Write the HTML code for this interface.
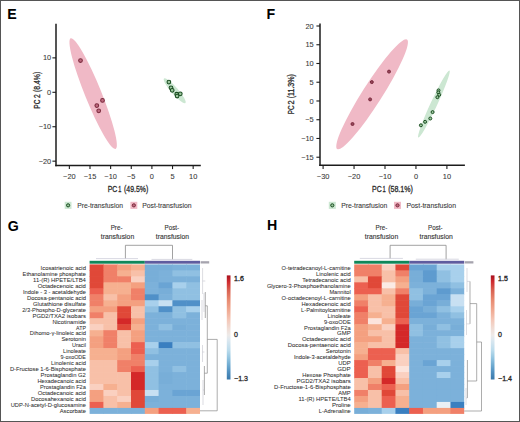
<!DOCTYPE html><html><head><meta charset="utf-8"><style>html,body{margin:0;padding:0;background:#fff;}svg{display:block;}</style></head><body><svg width="520" height="422" viewBox="0 0 520 422" font-family='"Liberation Sans", sans-serif'>
<rect x="0" y="0" width="520" height="422" fill="#ffffff"/>
<text x="7.30" y="18.80" font-size="14.2" font-weight="bold" fill="#000">E</text>
<text x="266.40" y="18.70" font-size="14.2" font-weight="bold" fill="#000">F</text>
<text x="7.70" y="230.70" font-size="14.2" font-weight="bold" fill="#000">G</text>
<text x="267.00" y="230.10" font-size="14.2" font-weight="bold" fill="#000">H</text>
<ellipse cx="93.15" cy="93.65" rx="59.73" ry="8.20" transform="rotate(67.92 93.15 93.65)" fill="#f0b9c6" fill-opacity="1.0"/>
<ellipse cx="174.70" cy="90.80" rx="16.23" ry="3.40" transform="rotate(48.75 174.70 90.80)" fill="#cce7d2" fill-opacity="1.0"/>
<line x1="56.00" y1="23.80" x2="56.00" y2="166.25" stroke="#1c1c1c" stroke-width="1.5"/>
<line x1="55.25" y1="165.50" x2="200.80" y2="165.50" stroke="#1c1c1c" stroke-width="1.5"/>
<line x1="69.36" y1="165.50" x2="69.36" y2="169.10" stroke="#1c1c1c" stroke-width="1.1"/>
<text x="69.36" y="179.00" font-size="7.4" text-anchor="middle" fill="#3a3a3a" stroke="#3a3a3a" stroke-width="0.08">−20</text>
<line x1="90.00" y1="165.50" x2="90.00" y2="169.10" stroke="#1c1c1c" stroke-width="1.1"/>
<text x="90.00" y="179.00" font-size="7.4" text-anchor="middle" fill="#3a3a3a" stroke="#3a3a3a" stroke-width="0.08">−15</text>
<line x1="110.63" y1="165.50" x2="110.63" y2="169.10" stroke="#1c1c1c" stroke-width="1.1"/>
<text x="110.63" y="179.00" font-size="7.4" text-anchor="middle" fill="#3a3a3a" stroke="#3a3a3a" stroke-width="0.08">−10</text>
<line x1="131.27" y1="165.50" x2="131.27" y2="169.10" stroke="#1c1c1c" stroke-width="1.1"/>
<text x="131.27" y="179.00" font-size="7.4" text-anchor="middle" fill="#3a3a3a" stroke="#3a3a3a" stroke-width="0.08">−5</text>
<line x1="151.90" y1="165.50" x2="151.90" y2="169.10" stroke="#1c1c1c" stroke-width="1.1"/>
<text x="151.90" y="179.00" font-size="7.4" text-anchor="middle" fill="#3a3a3a" stroke="#3a3a3a" stroke-width="0.08">0</text>
<line x1="172.53" y1="165.50" x2="172.53" y2="169.10" stroke="#1c1c1c" stroke-width="1.1"/>
<text x="172.53" y="179.00" font-size="7.4" text-anchor="middle" fill="#3a3a3a" stroke="#3a3a3a" stroke-width="0.08">5</text>
<line x1="193.17" y1="165.50" x2="193.17" y2="169.10" stroke="#1c1c1c" stroke-width="1.1"/>
<text x="193.17" y="179.00" font-size="7.4" text-anchor="middle" fill="#3a3a3a" stroke="#3a3a3a" stroke-width="0.08">10</text>
<line x1="52.40" y1="57.87" x2="56.00" y2="57.87" stroke="#1c1c1c" stroke-width="1.1"/>
<text x="51.20" y="60.47" font-size="7.4" text-anchor="end" fill="#3a3a3a" stroke="#3a3a3a" stroke-width="0.08">10</text>
<line x1="52.40" y1="92.30" x2="56.00" y2="92.30" stroke="#1c1c1c" stroke-width="1.1"/>
<text x="51.20" y="94.90" font-size="7.4" text-anchor="end" fill="#3a3a3a" stroke="#3a3a3a" stroke-width="0.08">0</text>
<line x1="52.40" y1="126.73" x2="56.00" y2="126.73" stroke="#1c1c1c" stroke-width="1.1"/>
<text x="51.20" y="129.33" font-size="7.4" text-anchor="end" fill="#3a3a3a" stroke="#3a3a3a" stroke-width="0.08">−10</text>
<line x1="52.40" y1="161.16" x2="56.00" y2="161.16" stroke="#1c1c1c" stroke-width="1.1"/>
<text x="51.20" y="163.76" font-size="7.4" text-anchor="end" fill="#3a3a3a" stroke="#3a3a3a" stroke-width="0.08">−20</text>
<text x="107.73" y="191.50" font-size="8.6" fill="#2b2b2b" stroke="#2b2b2b" stroke-width="0.3" textLength="9.64" lengthAdjust="spacingAndGlyphs">PC</text>
<text x="118.18" y="191.50" font-size="8.6" fill="#2b2b2b" stroke="#2b2b2b" stroke-width="0.3" textLength="3.09" lengthAdjust="spacingAndGlyphs">1</text>
<text x="124.07" y="191.50" font-size="8.6" fill="#2b2b2b" stroke="#2b2b2b" stroke-width="0.3" textLength="24.17" lengthAdjust="spacingAndGlyphs">(49.5%)</text>
<g transform="translate(40.4 0) rotate(-90)">
<text x="-108.64" y="0.00" font-size="8.6" fill="#2b2b2b" stroke="#2b2b2b" stroke-width="0.3" textLength="9.10" lengthAdjust="spacingAndGlyphs">PC</text>
<text x="-98.04" y="0.00" font-size="8.6" fill="#2b2b2b" stroke="#2b2b2b" stroke-width="0.3" textLength="3.79" lengthAdjust="spacingAndGlyphs">2</text>
<text x="-91.93" y="0.00" font-size="8.6" fill="#2b2b2b" stroke="#2b2b2b" stroke-width="0.3" textLength="20.16" lengthAdjust="spacingAndGlyphs">(8.4%)</text>
</g>
<circle cx="80.5" cy="60.5" r="1.85" fill="#c06a80" stroke="#7a2a3c" stroke-width="1.05"/>
<circle cx="102.5" cy="100.4" r="1.85" fill="#c06a80" stroke="#7a2a3c" stroke-width="1.05"/>
<circle cx="96.8" cy="105.6" r="1.85" fill="#c06a80" stroke="#7a2a3c" stroke-width="1.05"/>
<circle cx="98.7" cy="110.8" r="1.85" fill="#c06a80" stroke="#7a2a3c" stroke-width="1.05"/>
<circle cx="168.9" cy="82.1" r="1.85" fill="#9cc69e" stroke="#194c20" stroke-width="1.05"/>
<circle cx="171.0" cy="87.8" r="1.85" fill="#9cc69e" stroke="#194c20" stroke-width="1.05"/>
<circle cx="172.2" cy="90.3" r="1.85" fill="#9cc69e" stroke="#194c20" stroke-width="1.05"/>
<circle cx="176.7" cy="94.2" r="1.85" fill="#9cc69e" stroke="#194c20" stroke-width="1.05"/>
<circle cx="180.3" cy="93.8" r="1.85" fill="#9cc69e" stroke="#194c20" stroke-width="1.05"/>
<circle cx="177.1" cy="96.0" r="1.85" fill="#9cc69e" stroke="#194c20" stroke-width="1.05"/>
<rect x="64.7" y="201.8" width="6.799999999999997" height="7.099999999999994" fill="#cce7d2"/>
<circle cx="68.1" cy="205.35000000000002" r="1.6" fill="#9cc69e" stroke="#194c20" stroke-width="1"/>
<text x="77.20" y="207.60" font-size="7.6" fill="#3a3a3a" stroke="#3a3a3a" stroke-width="0.1" textLength="45.80" lengthAdjust="spacingAndGlyphs">Pre-transfusion</text>
<rect x="130.4" y="201.8" width="6.900000000000006" height="7.099999999999994" fill="#f0b9c6"/>
<circle cx="133.85000000000002" cy="205.35000000000002" r="1.6" fill="#c06a80" stroke="#7a2a3c" stroke-width="1"/>
<text x="142.20" y="207.60" font-size="7.6" fill="#3a3a3a" stroke="#3a3a3a" stroke-width="0.1" textLength="49.30" lengthAdjust="spacingAndGlyphs">Post-transfusion</text>
<ellipse cx="372.10" cy="94.30" rx="64.97" ry="9.80" transform="rotate(122.49 372.10 94.30)" fill="#f0b9c6" fill-opacity="1.0"/>
<ellipse cx="433.90" cy="104.00" rx="36.95" ry="3.30" transform="rotate(114.97 433.90 104.00)" fill="#cce7d2" fill-opacity="1.0"/>
<line x1="320.00" y1="23.50" x2="320.00" y2="166.05" stroke="#1c1c1c" stroke-width="1.5"/>
<line x1="319.25" y1="165.30" x2="464.90" y2="165.30" stroke="#1c1c1c" stroke-width="1.5"/>
<line x1="323.10" y1="165.30" x2="323.10" y2="168.90" stroke="#1c1c1c" stroke-width="1.1"/>
<text x="323.10" y="178.60" font-size="7.4" text-anchor="middle" fill="#3a3a3a" stroke="#3a3a3a" stroke-width="0.08">−30</text>
<line x1="354.05" y1="165.30" x2="354.05" y2="168.90" stroke="#1c1c1c" stroke-width="1.1"/>
<text x="354.05" y="178.60" font-size="7.4" text-anchor="middle" fill="#3a3a3a" stroke="#3a3a3a" stroke-width="0.08">−20</text>
<line x1="385.00" y1="165.30" x2="385.00" y2="168.90" stroke="#1c1c1c" stroke-width="1.1"/>
<text x="385.00" y="178.60" font-size="7.4" text-anchor="middle" fill="#3a3a3a" stroke="#3a3a3a" stroke-width="0.08">−10</text>
<line x1="415.95" y1="165.30" x2="415.95" y2="168.90" stroke="#1c1c1c" stroke-width="1.1"/>
<text x="415.95" y="178.60" font-size="7.4" text-anchor="middle" fill="#3a3a3a" stroke="#3a3a3a" stroke-width="0.08">0</text>
<line x1="446.90" y1="165.30" x2="446.90" y2="168.90" stroke="#1c1c1c" stroke-width="1.1"/>
<text x="446.90" y="178.60" font-size="7.4" text-anchor="middle" fill="#3a3a3a" stroke="#3a3a3a" stroke-width="0.08">10</text>
<line x1="316.40" y1="26.00" x2="320.00" y2="26.00" stroke="#1c1c1c" stroke-width="1.1"/>
<text x="313.70" y="28.60" font-size="7.4" text-anchor="end" fill="#3a3a3a" stroke="#3a3a3a" stroke-width="0.08">20</text>
<line x1="316.40" y1="44.75" x2="320.00" y2="44.75" stroke="#1c1c1c" stroke-width="1.1"/>
<text x="313.70" y="47.35" font-size="7.4" text-anchor="end" fill="#3a3a3a" stroke="#3a3a3a" stroke-width="0.08">15</text>
<line x1="316.40" y1="63.49" x2="320.00" y2="63.49" stroke="#1c1c1c" stroke-width="1.1"/>
<text x="313.70" y="66.09" font-size="7.4" text-anchor="end" fill="#3a3a3a" stroke="#3a3a3a" stroke-width="0.08">10</text>
<line x1="316.40" y1="82.23" x2="320.00" y2="82.23" stroke="#1c1c1c" stroke-width="1.1"/>
<text x="313.70" y="84.83" font-size="7.4" text-anchor="end" fill="#3a3a3a" stroke="#3a3a3a" stroke-width="0.08">5</text>
<line x1="316.40" y1="100.98" x2="320.00" y2="100.98" stroke="#1c1c1c" stroke-width="1.1"/>
<text x="313.70" y="103.58" font-size="7.4" text-anchor="end" fill="#3a3a3a" stroke="#3a3a3a" stroke-width="0.08">0</text>
<line x1="316.40" y1="119.73" x2="320.00" y2="119.73" stroke="#1c1c1c" stroke-width="1.1"/>
<text x="313.70" y="122.33" font-size="7.4" text-anchor="end" fill="#3a3a3a" stroke="#3a3a3a" stroke-width="0.08">−5</text>
<line x1="316.40" y1="138.47" x2="320.00" y2="138.47" stroke="#1c1c1c" stroke-width="1.1"/>
<text x="313.70" y="141.07" font-size="7.4" text-anchor="end" fill="#3a3a3a" stroke="#3a3a3a" stroke-width="0.08">−10</text>
<line x1="316.40" y1="157.22" x2="320.00" y2="157.22" stroke="#1c1c1c" stroke-width="1.1"/>
<text x="313.70" y="159.81" font-size="7.4" text-anchor="end" fill="#3a3a3a" stroke="#3a3a3a" stroke-width="0.08">−15</text>
<text x="372.03" y="191.50" font-size="8.6" fill="#2b2b2b" stroke="#2b2b2b" stroke-width="0.3" textLength="9.64" lengthAdjust="spacingAndGlyphs">PC</text>
<text x="382.47" y="191.50" font-size="8.6" fill="#2b2b2b" stroke="#2b2b2b" stroke-width="0.3" textLength="3.21" lengthAdjust="spacingAndGlyphs">1</text>
<text x="388.16" y="191.50" font-size="8.6" fill="#2b2b2b" stroke="#2b2b2b" stroke-width="0.3" textLength="24.69" lengthAdjust="spacingAndGlyphs">(58.1%)</text>
<g transform="translate(294.2 0) rotate(-90)">
<text x="-114.32" y="0.00" font-size="8.6" fill="#2b2b2b" stroke="#2b2b2b" stroke-width="0.3" textLength="8.77" lengthAdjust="spacingAndGlyphs">PC</text>
<text x="-104.47" y="0.00" font-size="8.6" fill="#2b2b2b" stroke="#2b2b2b" stroke-width="0.3" textLength="4.16" lengthAdjust="spacingAndGlyphs">2</text>
<text x="-98.34" y="0.00" font-size="8.6" fill="#2b2b2b" stroke="#2b2b2b" stroke-width="0.3" textLength="24.28" lengthAdjust="spacingAndGlyphs">(11.3%)</text>
</g>
<circle cx="389.0" cy="71.6" r="1.5" fill="#94445a" stroke="#7a2a3c" stroke-width="1.0"/>
<circle cx="371.8" cy="82.1" r="1.5" fill="#94445a" stroke="#7a2a3c" stroke-width="1.0"/>
<circle cx="370.1" cy="99.4" r="1.5" fill="#94445a" stroke="#7a2a3c" stroke-width="1.0"/>
<circle cx="352.5" cy="124.0" r="1.5" fill="#94445a" stroke="#7a2a3c" stroke-width="1.0"/>
<circle cx="438.5" cy="90.4" r="1.5" fill="#9cc69e" stroke="#194c20" stroke-width="1.0"/>
<circle cx="438.3" cy="92.4" r="1.5" fill="#9cc69e" stroke="#194c20" stroke-width="1.0"/>
<circle cx="439.2" cy="94.8" r="1.5" fill="#9cc69e" stroke="#194c20" stroke-width="1.0"/>
<circle cx="437.4" cy="97.2" r="1.5" fill="#9cc69e" stroke="#194c20" stroke-width="1.0"/>
<circle cx="432.6" cy="112.1" r="1.5" fill="#9cc69e" stroke="#194c20" stroke-width="1.0"/>
<circle cx="430.3" cy="118.5" r="1.5" fill="#9cc69e" stroke="#194c20" stroke-width="1.0"/>
<circle cx="425.1" cy="121.8" r="1.5" fill="#9cc69e" stroke="#194c20" stroke-width="1.0"/>
<circle cx="420.9" cy="125.3" r="1.5" fill="#9cc69e" stroke="#194c20" stroke-width="1.0"/>
<rect x="328.8" y="201.8" width="7.0" height="7.099999999999994" fill="#cce7d2"/>
<circle cx="332.3" cy="205.35000000000002" r="1.6" fill="#9cc69e" stroke="#194c20" stroke-width="1"/>
<text x="341.20" y="207.60" font-size="7.6" fill="#3a3a3a" stroke="#3a3a3a" stroke-width="0.1" textLength="46.00" lengthAdjust="spacingAndGlyphs">Pre-transfusion</text>
<rect x="394.0" y="201.8" width="7.0" height="7.099999999999994" fill="#f0b9c6"/>
<circle cx="397.5" cy="205.35000000000002" r="1.6" fill="#c06a80" stroke="#7a2a3c" stroke-width="1"/>
<text x="406.40" y="207.60" font-size="7.6" fill="#3a3a3a" stroke="#3a3a3a" stroke-width="0.1" textLength="49.60" lengthAdjust="spacingAndGlyphs">Post-transfusion</text>
<text x="116.60" y="229.60" font-size="7.5" text-anchor="middle" fill="#333" stroke="#333" stroke-width="0.12" textLength="11.80" lengthAdjust="spacingAndGlyphs">Pre-</text>
<text x="117.50" y="238.50" font-size="7.5" text-anchor="middle" fill="#333" stroke="#333" stroke-width="0.12" textLength="33.40" lengthAdjust="spacingAndGlyphs">transfusion</text>
<text x="171.90" y="229.60" font-size="7.5" text-anchor="middle" fill="#333" stroke="#333" stroke-width="0.12" textLength="14.60" lengthAdjust="spacingAndGlyphs">Post-</text>
<text x="172.40" y="238.50" font-size="7.5" text-anchor="middle" fill="#333" stroke="#333" stroke-width="0.12" textLength="33.20" lengthAdjust="spacingAndGlyphs">transfusion</text>
<path d="M125.4 258.6 V245.3 H172.5 V259.4" fill="none" stroke="#8a8a8a" stroke-width="0.8"/>
<path d="M96.0 258.6 H138.0" fill="none" stroke="#c8c8d6" stroke-width="0.7"/>
<path d="M151.5 259.4 H192.3" fill="none" stroke="#c8c8d6" stroke-width="0.7"/>
<rect x="89.6" y="260.8" width="55.2" height="2.9" fill="#10875a"/>
<rect x="144.8" y="260.8" width="55.2" height="2.9" fill="#5f5c9f"/>
<rect x="200.6" y="261.2" width="8.6" height="2.3" fill="#a6a4ae"/>
<rect x="89.60" y="264.40" width="14.40" height="6.58" fill="#e04838"/>
<rect x="103.40" y="264.40" width="14.40" height="6.58" fill="#f08068"/>
<rect x="117.20" y="264.40" width="14.40" height="6.58" fill="#f4a080"/>
<rect x="131.00" y="264.40" width="14.40" height="6.58" fill="#f6b090"/>
<rect x="144.80" y="264.40" width="14.40" height="6.58" fill="#78aed8"/>
<rect x="158.60" y="264.40" width="14.40" height="6.58" fill="#78aed8"/>
<rect x="172.40" y="264.40" width="14.40" height="6.58" fill="#7cb1da"/>
<rect x="186.20" y="264.40" width="13.80" height="6.58" fill="#7cb1da"/>
<rect x="89.60" y="270.38" width="14.40" height="6.58" fill="#e04838"/>
<rect x="103.40" y="270.38" width="14.40" height="6.58" fill="#f08068"/>
<rect x="117.20" y="270.38" width="14.40" height="6.58" fill="#f6b090"/>
<rect x="131.00" y="270.38" width="14.40" height="6.58" fill="#f8c0a8"/>
<rect x="144.80" y="270.38" width="14.40" height="6.58" fill="#78aed8"/>
<rect x="158.60" y="270.38" width="14.40" height="6.58" fill="#7cb1da"/>
<rect x="172.40" y="270.38" width="14.40" height="6.58" fill="#90c0e2"/>
<rect x="186.20" y="270.38" width="13.80" height="6.58" fill="#90c0e2"/>
<rect x="89.60" y="276.36" width="14.40" height="6.58" fill="#e04838"/>
<rect x="103.40" y="276.36" width="14.40" height="6.58" fill="#f08068"/>
<rect x="117.20" y="276.36" width="14.40" height="6.58" fill="#f08068"/>
<rect x="131.00" y="276.36" width="14.40" height="6.58" fill="#fad0c0"/>
<rect x="144.80" y="276.36" width="14.40" height="6.58" fill="#78aed8"/>
<rect x="158.60" y="276.36" width="14.40" height="6.58" fill="#7cb1da"/>
<rect x="172.40" y="276.36" width="14.40" height="6.58" fill="#7cb1da"/>
<rect x="186.20" y="276.36" width="13.80" height="6.58" fill="#7cb1da"/>
<rect x="89.60" y="282.34" width="14.40" height="6.58" fill="#e04838"/>
<rect x="103.40" y="282.34" width="14.40" height="6.58" fill="#f6b090"/>
<rect x="117.20" y="282.34" width="14.40" height="6.58" fill="#f6b090"/>
<rect x="131.00" y="282.34" width="14.40" height="6.58" fill="#f4a080"/>
<rect x="144.80" y="282.34" width="14.40" height="6.58" fill="#7cb1da"/>
<rect x="158.60" y="282.34" width="14.40" height="6.58" fill="#6aa4d4"/>
<rect x="172.40" y="282.34" width="14.40" height="6.58" fill="#a8d0ec"/>
<rect x="186.20" y="282.34" width="13.80" height="6.58" fill="#90c0e2"/>
<rect x="89.60" y="288.32" width="14.40" height="6.58" fill="#ec6050"/>
<rect x="103.40" y="288.32" width="14.40" height="6.58" fill="#f6b090"/>
<rect x="117.20" y="288.32" width="14.40" height="6.58" fill="#f6b090"/>
<rect x="131.00" y="288.32" width="14.40" height="6.58" fill="#f08068"/>
<rect x="144.80" y="288.32" width="14.40" height="6.58" fill="#7cb1da"/>
<rect x="158.60" y="288.32" width="14.40" height="6.58" fill="#78aed8"/>
<rect x="172.40" y="288.32" width="14.40" height="6.58" fill="#90c0e2"/>
<rect x="186.20" y="288.32" width="13.80" height="6.58" fill="#90c0e2"/>
<rect x="89.60" y="294.30" width="14.40" height="6.58" fill="#f08068"/>
<rect x="103.40" y="294.30" width="14.40" height="6.58" fill="#f8c0a8"/>
<rect x="117.20" y="294.30" width="14.40" height="6.58" fill="#f4a080"/>
<rect x="131.00" y="294.30" width="14.40" height="6.58" fill="#f08068"/>
<rect x="144.80" y="294.30" width="14.40" height="6.58" fill="#5090c8"/>
<rect x="158.60" y="294.30" width="14.40" height="6.58" fill="#7cb1da"/>
<rect x="172.40" y="294.30" width="14.40" height="6.58" fill="#90c0e2"/>
<rect x="186.20" y="294.30" width="13.80" height="6.58" fill="#90c0e2"/>
<rect x="89.60" y="300.28" width="14.40" height="6.58" fill="#f08068"/>
<rect x="103.40" y="300.28" width="14.40" height="6.58" fill="#f6b090"/>
<rect x="117.20" y="300.28" width="14.40" height="6.58" fill="#f4a080"/>
<rect x="131.00" y="300.28" width="14.40" height="6.58" fill="#f4a080"/>
<rect x="144.80" y="300.28" width="14.40" height="6.58" fill="#a8d0ec"/>
<rect x="158.60" y="300.28" width="14.40" height="6.58" fill="#c8e0f2"/>
<rect x="172.40" y="300.28" width="14.40" height="6.58" fill="#5090c8"/>
<rect x="186.20" y="300.28" width="13.80" height="6.58" fill="#5090c8"/>
<rect x="89.60" y="306.26" width="14.40" height="6.58" fill="#f4a080"/>
<rect x="103.40" y="306.26" width="14.40" height="6.58" fill="#f4a080"/>
<rect x="117.20" y="306.26" width="14.40" height="6.58" fill="#e04838"/>
<rect x="131.00" y="306.26" width="14.40" height="6.58" fill="#f8c0a8"/>
<rect x="144.80" y="306.26" width="14.40" height="6.58" fill="#90c0e2"/>
<rect x="158.60" y="306.26" width="14.40" height="6.58" fill="#5090c8"/>
<rect x="172.40" y="306.26" width="14.40" height="6.58" fill="#90c0e2"/>
<rect x="186.20" y="306.26" width="13.80" height="6.58" fill="#a8d0ec"/>
<rect x="89.60" y="312.24" width="14.40" height="6.58" fill="#f08068"/>
<rect x="103.40" y="312.24" width="14.40" height="6.58" fill="#f8c0a8"/>
<rect x="117.20" y="312.24" width="14.40" height="6.58" fill="#e04838"/>
<rect x="131.00" y="312.24" width="14.40" height="6.58" fill="#f8c0a8"/>
<rect x="144.80" y="312.24" width="14.40" height="6.58" fill="#7cb1da"/>
<rect x="158.60" y="312.24" width="14.40" height="6.58" fill="#7cb1da"/>
<rect x="172.40" y="312.24" width="14.40" height="6.58" fill="#90c0e2"/>
<rect x="186.20" y="312.24" width="13.80" height="6.58" fill="#7cb1da"/>
<rect x="89.60" y="318.22" width="14.40" height="6.58" fill="#f8c0a8"/>
<rect x="103.40" y="318.22" width="14.40" height="6.58" fill="#f8c0a8"/>
<rect x="117.20" y="318.22" width="14.40" height="6.58" fill="#d42828"/>
<rect x="131.00" y="318.22" width="14.40" height="6.58" fill="#f4a080"/>
<rect x="144.80" y="318.22" width="14.40" height="6.58" fill="#7cb1da"/>
<rect x="158.60" y="318.22" width="14.40" height="6.58" fill="#7cb1da"/>
<rect x="172.40" y="318.22" width="14.40" height="6.58" fill="#7cb1da"/>
<rect x="186.20" y="318.22" width="13.80" height="6.58" fill="#7cb1da"/>
<rect x="89.60" y="324.20" width="14.40" height="6.58" fill="#fad0c0"/>
<rect x="103.40" y="324.20" width="14.40" height="6.58" fill="#f8c0a8"/>
<rect x="117.20" y="324.20" width="14.40" height="6.58" fill="#e04838"/>
<rect x="131.00" y="324.20" width="14.40" height="6.58" fill="#f6b090"/>
<rect x="144.80" y="324.20" width="14.40" height="6.58" fill="#7cb1da"/>
<rect x="158.60" y="324.20" width="14.40" height="6.58" fill="#90c0e2"/>
<rect x="172.40" y="324.20" width="14.40" height="6.58" fill="#78aed8"/>
<rect x="186.20" y="324.20" width="13.80" height="6.58" fill="#7cb1da"/>
<rect x="89.60" y="330.18" width="14.40" height="6.58" fill="#f6b090"/>
<rect x="103.40" y="330.18" width="14.40" height="6.58" fill="#f08068"/>
<rect x="117.20" y="330.18" width="14.40" height="6.58" fill="#f8c0a8"/>
<rect x="131.00" y="330.18" width="14.40" height="6.58" fill="#f4a080"/>
<rect x="144.80" y="330.18" width="14.40" height="6.58" fill="#7cb1da"/>
<rect x="158.60" y="330.18" width="14.40" height="6.58" fill="#7cb1da"/>
<rect x="172.40" y="330.18" width="14.40" height="6.58" fill="#7cb1da"/>
<rect x="186.20" y="330.18" width="13.80" height="6.58" fill="#7cb1da"/>
<rect x="89.60" y="336.16" width="14.40" height="6.58" fill="#f4a080"/>
<rect x="103.40" y="336.16" width="14.40" height="6.58" fill="#f08068"/>
<rect x="117.20" y="336.16" width="14.40" height="6.58" fill="#f8c0a8"/>
<rect x="131.00" y="336.16" width="14.40" height="6.58" fill="#f4a080"/>
<rect x="144.80" y="336.16" width="14.40" height="6.58" fill="#7cb1da"/>
<rect x="158.60" y="336.16" width="14.40" height="6.58" fill="#7cb1da"/>
<rect x="172.40" y="336.16" width="14.40" height="6.58" fill="#7cb1da"/>
<rect x="186.20" y="336.16" width="13.80" height="6.58" fill="#7cb1da"/>
<rect x="89.60" y="342.14" width="14.40" height="6.58" fill="#f4a080"/>
<rect x="103.40" y="342.14" width="14.40" height="6.58" fill="#f08068"/>
<rect x="117.20" y="342.14" width="14.40" height="6.58" fill="#f8c0a8"/>
<rect x="131.00" y="342.14" width="14.40" height="6.58" fill="#ec6050"/>
<rect x="144.80" y="342.14" width="14.40" height="6.58" fill="#a8d0ec"/>
<rect x="158.60" y="342.14" width="14.40" height="6.58" fill="#3a7fc0"/>
<rect x="172.40" y="342.14" width="14.40" height="6.58" fill="#90c0e2"/>
<rect x="186.20" y="342.14" width="13.80" height="6.58" fill="#90c0e2"/>
<rect x="89.60" y="348.12" width="14.40" height="6.58" fill="#f6b090"/>
<rect x="103.40" y="348.12" width="14.40" height="6.58" fill="#f6b090"/>
<rect x="117.20" y="348.12" width="14.40" height="6.58" fill="#f4a080"/>
<rect x="131.00" y="348.12" width="14.40" height="6.58" fill="#ec6050"/>
<rect x="144.80" y="348.12" width="14.40" height="6.58" fill="#90c0e2"/>
<rect x="158.60" y="348.12" width="14.40" height="6.58" fill="#7cb1da"/>
<rect x="172.40" y="348.12" width="14.40" height="6.58" fill="#7cb1da"/>
<rect x="186.20" y="348.12" width="13.80" height="6.58" fill="#7cb1da"/>
<rect x="89.60" y="354.10" width="14.40" height="6.58" fill="#f6b090"/>
<rect x="103.40" y="354.10" width="14.40" height="6.58" fill="#f6b090"/>
<rect x="117.20" y="354.10" width="14.40" height="6.58" fill="#f4a080"/>
<rect x="131.00" y="354.10" width="14.40" height="6.58" fill="#f08068"/>
<rect x="144.80" y="354.10" width="14.40" height="6.58" fill="#7cb1da"/>
<rect x="158.60" y="354.10" width="14.40" height="6.58" fill="#7cb1da"/>
<rect x="172.40" y="354.10" width="14.40" height="6.58" fill="#7cb1da"/>
<rect x="186.20" y="354.10" width="13.80" height="6.58" fill="#7cb1da"/>
<rect x="89.60" y="360.08" width="14.40" height="6.58" fill="#f8c0a8"/>
<rect x="103.40" y="360.08" width="14.40" height="6.58" fill="#f8c0a8"/>
<rect x="117.20" y="360.08" width="14.40" height="6.58" fill="#f08068"/>
<rect x="131.00" y="360.08" width="14.40" height="6.58" fill="#f08068"/>
<rect x="144.80" y="360.08" width="14.40" height="6.58" fill="#a8d0ec"/>
<rect x="158.60" y="360.08" width="14.40" height="6.58" fill="#7cb1da"/>
<rect x="172.40" y="360.08" width="14.40" height="6.58" fill="#7cb1da"/>
<rect x="186.20" y="360.08" width="13.80" height="6.58" fill="#7cb1da"/>
<rect x="89.60" y="366.06" width="14.40" height="6.58" fill="#f8c0a8"/>
<rect x="103.40" y="366.06" width="14.40" height="6.58" fill="#f8c0a8"/>
<rect x="117.20" y="366.06" width="14.40" height="6.58" fill="#f08068"/>
<rect x="131.00" y="366.06" width="14.40" height="6.58" fill="#ec6050"/>
<rect x="144.80" y="366.06" width="14.40" height="6.58" fill="#90c0e2"/>
<rect x="158.60" y="366.06" width="14.40" height="6.58" fill="#7cb1da"/>
<rect x="172.40" y="366.06" width="14.40" height="6.58" fill="#90c0e2"/>
<rect x="186.20" y="366.06" width="13.80" height="6.58" fill="#7cb1da"/>
<rect x="89.60" y="372.04" width="14.40" height="6.58" fill="#f8c0a8"/>
<rect x="103.40" y="372.04" width="14.40" height="6.58" fill="#f8c0a8"/>
<rect x="117.20" y="372.04" width="14.40" height="6.58" fill="#f8c0a8"/>
<rect x="131.00" y="372.04" width="14.40" height="6.58" fill="#d42828"/>
<rect x="144.80" y="372.04" width="14.40" height="6.58" fill="#90c0e2"/>
<rect x="158.60" y="372.04" width="14.40" height="6.58" fill="#78aed8"/>
<rect x="172.40" y="372.04" width="14.40" height="6.58" fill="#7cb1da"/>
<rect x="186.20" y="372.04" width="13.80" height="6.58" fill="#7cb1da"/>
<rect x="89.60" y="378.02" width="14.40" height="6.58" fill="#f8c0a8"/>
<rect x="103.40" y="378.02" width="14.40" height="6.58" fill="#f8c0a8"/>
<rect x="117.20" y="378.02" width="14.40" height="6.58" fill="#f8c0a8"/>
<rect x="131.00" y="378.02" width="14.40" height="6.58" fill="#d42828"/>
<rect x="144.80" y="378.02" width="14.40" height="6.58" fill="#90c0e2"/>
<rect x="158.60" y="378.02" width="14.40" height="6.58" fill="#78aed8"/>
<rect x="172.40" y="378.02" width="14.40" height="6.58" fill="#7cb1da"/>
<rect x="186.20" y="378.02" width="13.80" height="6.58" fill="#7cb1da"/>
<rect x="89.60" y="384.00" width="14.40" height="6.58" fill="#fad0c0"/>
<rect x="103.40" y="384.00" width="14.40" height="6.58" fill="#f6b090"/>
<rect x="117.20" y="384.00" width="14.40" height="6.58" fill="#f8c0a8"/>
<rect x="131.00" y="384.00" width="14.40" height="6.58" fill="#d42828"/>
<rect x="144.80" y="384.00" width="14.40" height="6.58" fill="#90c0e2"/>
<rect x="158.60" y="384.00" width="14.40" height="6.58" fill="#7cb1da"/>
<rect x="172.40" y="384.00" width="14.40" height="6.58" fill="#7cb1da"/>
<rect x="186.20" y="384.00" width="13.80" height="6.58" fill="#7cb1da"/>
<rect x="89.60" y="389.98" width="14.40" height="6.58" fill="#f4a080"/>
<rect x="103.40" y="389.98" width="14.40" height="6.58" fill="#fad0c0"/>
<rect x="117.20" y="389.98" width="14.40" height="6.58" fill="#f8c0a8"/>
<rect x="131.00" y="389.98" width="14.40" height="6.58" fill="#e04838"/>
<rect x="144.80" y="389.98" width="14.40" height="6.58" fill="#c8e0f2"/>
<rect x="158.60" y="389.98" width="14.40" height="6.58" fill="#7cb1da"/>
<rect x="172.40" y="389.98" width="14.40" height="6.58" fill="#6aa4d4"/>
<rect x="186.20" y="389.98" width="13.80" height="6.58" fill="#6aa4d4"/>
<rect x="89.60" y="395.96" width="14.40" height="6.58" fill="#f4a080"/>
<rect x="103.40" y="395.96" width="14.40" height="6.58" fill="#f8c0a8"/>
<rect x="117.20" y="395.96" width="14.40" height="6.58" fill="#fad0c0"/>
<rect x="131.00" y="395.96" width="14.40" height="6.58" fill="#e04838"/>
<rect x="144.80" y="395.96" width="14.40" height="6.58" fill="#78aed8"/>
<rect x="158.60" y="395.96" width="14.40" height="6.58" fill="#7cb1da"/>
<rect x="172.40" y="395.96" width="14.40" height="6.58" fill="#7cb1da"/>
<rect x="186.20" y="395.96" width="13.80" height="6.58" fill="#7cb1da"/>
<rect x="89.60" y="401.94" width="14.40" height="6.58" fill="#ec6050"/>
<rect x="103.40" y="401.94" width="14.40" height="6.58" fill="#f8c0a8"/>
<rect x="117.20" y="401.94" width="14.40" height="6.58" fill="#f6b090"/>
<rect x="131.00" y="401.94" width="14.40" height="6.58" fill="#e04838"/>
<rect x="144.80" y="401.94" width="14.40" height="6.58" fill="#7cb1da"/>
<rect x="158.60" y="401.94" width="14.40" height="6.58" fill="#7cb1da"/>
<rect x="172.40" y="401.94" width="14.40" height="6.58" fill="#7cb1da"/>
<rect x="186.20" y="401.94" width="13.80" height="6.58" fill="#7cb1da"/>
<rect x="89.60" y="407.92" width="14.40" height="5.98" fill="#7cb1da"/>
<rect x="103.40" y="407.92" width="14.40" height="5.98" fill="#7cb1da"/>
<rect x="117.20" y="407.92" width="14.40" height="5.98" fill="#7cb1da"/>
<rect x="131.00" y="407.92" width="14.40" height="5.98" fill="#7cb1da"/>
<rect x="144.80" y="407.92" width="14.40" height="5.98" fill="#f4a080"/>
<rect x="158.60" y="407.92" width="14.40" height="5.98" fill="#ec6050"/>
<rect x="172.40" y="407.92" width="14.40" height="5.98" fill="#ec6050"/>
<rect x="186.20" y="407.92" width="13.80" height="5.98" fill="#f6b090"/>
<text x="40.60" y="270.10" font-size="6.0" fill="#2e2e2e" stroke="#2e2e2e" stroke-width="0.05" textLength="45.30" lengthAdjust="spacingAndGlyphs">Icosatrienoic acid</text>
<text x="22.60" y="276.04" font-size="6.0" fill="#2e2e2e" stroke="#2e2e2e" stroke-width="0.05" textLength="63.30" lengthAdjust="spacingAndGlyphs">Ethanolamine phosphate</text>
<text x="33.10" y="281.98" font-size="6.0" fill="#2e2e2e" stroke="#2e2e2e" stroke-width="0.05" textLength="52.80" lengthAdjust="spacingAndGlyphs">11-(R) HPETE/LTB4</text>
<text x="37.70" y="287.92" font-size="6.0" fill="#2e2e2e" stroke="#2e2e2e" stroke-width="0.05" textLength="48.20" lengthAdjust="spacingAndGlyphs">Octadecenoic acid</text>
<text x="23.00" y="293.86" font-size="6.0" fill="#2e2e2e" stroke="#2e2e2e" stroke-width="0.05" textLength="62.90" lengthAdjust="spacingAndGlyphs">Indole - 3 - acetaldehyde</text>
<text x="27.00" y="299.80" font-size="6.0" fill="#2e2e2e" stroke="#2e2e2e" stroke-width="0.05" textLength="58.90" lengthAdjust="spacingAndGlyphs">Docosa-pentanoic acid</text>
<text x="33.10" y="305.74" font-size="6.0" fill="#2e2e2e" stroke="#2e2e2e" stroke-width="0.05" textLength="52.80" lengthAdjust="spacingAndGlyphs">Glutathione disulfate</text>
<text x="22.20" y="311.68" font-size="6.0" fill="#2e2e2e" stroke="#2e2e2e" stroke-width="0.05" textLength="63.70" lengthAdjust="spacingAndGlyphs">2/3-Phospho-D-glycerate</text>
<text x="32.50" y="317.62" font-size="6.0" fill="#2e2e2e" stroke="#2e2e2e" stroke-width="0.05" textLength="53.40" lengthAdjust="spacingAndGlyphs">PGD2/TXA2 isobars</text>
<text x="52.40" y="323.56" font-size="6.0" fill="#2e2e2e" stroke="#2e2e2e" stroke-width="0.05" textLength="33.50" lengthAdjust="spacingAndGlyphs">Nicotinamide</text>
<text x="76.10" y="329.50" font-size="6.0" fill="#2e2e2e" stroke="#2e2e2e" stroke-width="0.05" textLength="9.80" lengthAdjust="spacingAndGlyphs">ATP</text>
<text x="29.80" y="335.44" font-size="6.0" fill="#2e2e2e" stroke="#2e2e2e" stroke-width="0.05" textLength="56.10" lengthAdjust="spacingAndGlyphs">Dihomo-γ-linoleic acid</text>
<text x="61.40" y="341.38" font-size="6.0" fill="#2e2e2e" stroke="#2e2e2e" stroke-width="0.05" textLength="24.50" lengthAdjust="spacingAndGlyphs">Serotonin</text>
<text x="72.00" y="347.32" font-size="6.0" fill="#2e2e2e" stroke="#2e2e2e" stroke-width="0.05" textLength="13.90" lengthAdjust="spacingAndGlyphs">Uracil</text>
<text x="63.00" y="353.26" font-size="6.0" fill="#2e2e2e" stroke="#2e2e2e" stroke-width="0.05" textLength="22.90" lengthAdjust="spacingAndGlyphs">Linoleate</text>
<text x="60.60" y="359.20" font-size="6.0" fill="#2e2e2e" stroke="#2e2e2e" stroke-width="0.05" textLength="25.30" lengthAdjust="spacingAndGlyphs">9-oxoODE</text>
<text x="51.10" y="365.14" font-size="6.0" fill="#2e2e2e" stroke="#2e2e2e" stroke-width="0.05" textLength="34.80" lengthAdjust="spacingAndGlyphs">Linolenic acid</text>
<text x="9.90" y="371.08" font-size="6.0" fill="#2e2e2e" stroke="#2e2e2e" stroke-width="0.05" textLength="76.00" lengthAdjust="spacingAndGlyphs">D-Fructose 1-6-Bisphosphate</text>
<text x="40.60" y="377.02" font-size="6.0" fill="#2e2e2e" stroke="#2e2e2e" stroke-width="0.05" textLength="45.30" lengthAdjust="spacingAndGlyphs">Prostaglandin G2</text>
<text x="37.40" y="382.96" font-size="6.0" fill="#2e2e2e" stroke="#2e2e2e" stroke-width="0.05" textLength="48.50" lengthAdjust="spacingAndGlyphs">Hexadecanoic acid</text>
<text x="40.10" y="388.90" font-size="6.0" fill="#2e2e2e" stroke="#2e2e2e" stroke-width="0.05" textLength="45.80" lengthAdjust="spacingAndGlyphs">Prostaglandin F2a</text>
<text x="37.70" y="394.84" font-size="6.0" fill="#2e2e2e" stroke="#2e2e2e" stroke-width="0.05" textLength="48.20" lengthAdjust="spacingAndGlyphs">Octadecanoic acid</text>
<text x="31.10" y="400.78" font-size="6.0" fill="#2e2e2e" stroke="#2e2e2e" stroke-width="0.05" textLength="54.80" lengthAdjust="spacingAndGlyphs">Docosahexanoic acid</text>
<text x="10.70" y="406.72" font-size="6.0" fill="#2e2e2e" stroke="#2e2e2e" stroke-width="0.05" textLength="75.20" lengthAdjust="spacingAndGlyphs">UDP-N-acetyl-D-glucosamine</text>
<text x="59.70" y="412.66" font-size="6.0" fill="#2e2e2e" stroke="#2e2e2e" stroke-width="0.05" textLength="26.20" lengthAdjust="spacingAndGlyphs">Ascorbate</text>
<path d="M200 410.8 H217.2 V339.4 H207.3 M207.3 305.8 V373.2 M205.3 305.8 H207.3 M205.3 292 V318 M204.4 373.2 H207.3 M204.4 366 V395" fill="none" stroke="#8a8a8a" stroke-width="0.7"/>
<path d="M202.6 268 V294 M202.6 281 H205.3 M204 293 V312 M202 300 V320 M202.5 345 V362 M202.5 352 H204.4 M203 380 V405 M203 390 H204.4" fill="none" stroke="#c4c4cc" stroke-width="0.6"/>
<defs><linearGradient id="cb89" x1="0" y1="0" x2="0" y2="1"><stop offset="0" stop-color="#a8101e"/><stop offset="0.063" stop-color="#d02c30"/><stop offset="0.14" stop-color="#d86050"/><stop offset="0.236" stop-color="#e88a70"/><stop offset="0.33" stop-color="#f0a890"/><stop offset="0.43" stop-color="#f4c8b8"/><stop offset="0.506" stop-color="#f0dcd4"/><stop offset="0.573" stop-color="#eeeae8"/><stop offset="0.62" stop-color="#dce8f0"/><stop offset="0.716" stop-color="#bcdcec"/><stop offset="0.784" stop-color="#98c8e2"/><stop offset="0.86" stop-color="#70acd2"/><stop offset="0.928" stop-color="#5090c0"/><stop offset="1" stop-color="#3a78aa"/></linearGradient></defs>
<rect x="226.8" y="275.4" width="3.7" height="104.1" fill="url(#cb89)"/>
<text x="234.10" y="280.80" font-size="7.0" fill="#2a2a2a" stroke="#2a2a2a" stroke-width="0.35">1.6</text>
<text x="234.10" y="336.80" font-size="7.0" fill="#2a2a2a" stroke="#2a2a2a" stroke-width="0.3">0</text>
<text x="234.10" y="380.60" font-size="7.0" fill="#2a2a2a" stroke="#2a2a2a" stroke-width="0.3">−1.3</text>
<text x="381.40" y="229.60" font-size="7.5" text-anchor="middle" fill="#333" stroke="#333" stroke-width="0.12" textLength="11.80" lengthAdjust="spacingAndGlyphs">Pre-</text>
<text x="381.50" y="238.50" font-size="7.5" text-anchor="middle" fill="#333" stroke="#333" stroke-width="0.12" textLength="33.40" lengthAdjust="spacingAndGlyphs">transfusion</text>
<text x="435.40" y="229.60" font-size="7.5" text-anchor="middle" fill="#333" stroke="#333" stroke-width="0.12" textLength="14.60" lengthAdjust="spacingAndGlyphs">Post-</text>
<text x="436.10" y="238.50" font-size="7.5" text-anchor="middle" fill="#333" stroke="#333" stroke-width="0.12" textLength="33.20" lengthAdjust="spacingAndGlyphs">transfusion</text>
<path d="M390.1 258.6 V245.3 H446.1 V259.4" fill="none" stroke="#8a8a8a" stroke-width="0.8"/>
<path d="M359.8 258.4 H402.9" fill="none" stroke="#c8c8d6" stroke-width="0.7"/>
<path d="M415.8 259.2 H458.8" fill="none" stroke="#c8c8d6" stroke-width="0.7"/>
<rect x="354.2" y="260.8" width="55.0" height="2.9" fill="#10875a"/>
<rect x="409.2" y="260.8" width="55.0" height="2.9" fill="#5f5c9f"/>
<rect x="464.8" y="261.2" width="8.6" height="2.3" fill="#a6a4ae"/>
<rect x="354.20" y="264.40" width="14.35" height="6.58" fill="#f08068"/>
<rect x="367.95" y="264.40" width="14.35" height="6.58" fill="#f08068"/>
<rect x="381.70" y="264.40" width="14.35" height="6.58" fill="#fad0c0"/>
<rect x="395.45" y="264.40" width="14.35" height="6.58" fill="#e04838"/>
<rect x="409.20" y="264.40" width="14.35" height="6.58" fill="#6aa4d4"/>
<rect x="422.95" y="264.40" width="14.35" height="6.58" fill="#6aa4d4"/>
<rect x="436.70" y="264.40" width="14.35" height="6.58" fill="#a8d0ec"/>
<rect x="450.45" y="264.40" width="13.75" height="6.58" fill="#a8d0ec"/>
<rect x="354.20" y="270.38" width="14.35" height="6.58" fill="#f08068"/>
<rect x="367.95" y="270.38" width="14.35" height="6.58" fill="#f08068"/>
<rect x="381.70" y="270.38" width="14.35" height="6.58" fill="#f8c0a8"/>
<rect x="395.45" y="270.38" width="14.35" height="6.58" fill="#f08068"/>
<rect x="409.20" y="270.38" width="14.35" height="6.58" fill="#78aed8"/>
<rect x="422.95" y="270.38" width="14.35" height="6.58" fill="#5e9bcf"/>
<rect x="436.70" y="270.38" width="14.35" height="6.58" fill="#90c0e2"/>
<rect x="450.45" y="270.38" width="13.75" height="6.58" fill="#a8d0ec"/>
<rect x="354.20" y="276.36" width="14.35" height="6.58" fill="#f8c0a8"/>
<rect x="367.95" y="276.36" width="14.35" height="6.58" fill="#e04838"/>
<rect x="381.70" y="276.36" width="14.35" height="6.58" fill="#f8c0a8"/>
<rect x="395.45" y="276.36" width="14.35" height="6.58" fill="#f4a080"/>
<rect x="409.20" y="276.36" width="14.35" height="6.58" fill="#78aed8"/>
<rect x="422.95" y="276.36" width="14.35" height="6.58" fill="#5e9bcf"/>
<rect x="436.70" y="276.36" width="14.35" height="6.58" fill="#90c0e2"/>
<rect x="450.45" y="276.36" width="13.75" height="6.58" fill="#a8d0ec"/>
<rect x="354.20" y="282.34" width="14.35" height="6.58" fill="#ec6050"/>
<rect x="367.95" y="282.34" width="14.35" height="6.58" fill="#e04838"/>
<rect x="381.70" y="282.34" width="14.35" height="6.58" fill="#fbebe5"/>
<rect x="395.45" y="282.34" width="14.35" height="6.58" fill="#f6b090"/>
<rect x="409.20" y="282.34" width="14.35" height="6.58" fill="#7cb1da"/>
<rect x="422.95" y="282.34" width="14.35" height="6.58" fill="#7cb1da"/>
<rect x="436.70" y="282.34" width="14.35" height="6.58" fill="#7cb1da"/>
<rect x="450.45" y="282.34" width="13.75" height="6.58" fill="#90c0e2"/>
<rect x="354.20" y="288.32" width="14.35" height="6.58" fill="#ec6050"/>
<rect x="367.95" y="288.32" width="14.35" height="6.58" fill="#ec6050"/>
<rect x="381.70" y="288.32" width="14.35" height="6.58" fill="#f8c0a8"/>
<rect x="395.45" y="288.32" width="14.35" height="6.58" fill="#f08068"/>
<rect x="409.20" y="288.32" width="14.35" height="6.58" fill="#90c0e2"/>
<rect x="422.95" y="288.32" width="14.35" height="6.58" fill="#7cb1da"/>
<rect x="436.70" y="288.32" width="14.35" height="6.58" fill="#5e9bcf"/>
<rect x="450.45" y="288.32" width="13.75" height="6.58" fill="#7cb1da"/>
<rect x="354.20" y="294.30" width="14.35" height="6.58" fill="#f4a080"/>
<rect x="367.95" y="294.30" width="14.35" height="6.58" fill="#f8c0a8"/>
<rect x="381.70" y="294.30" width="14.35" height="6.58" fill="#f6b090"/>
<rect x="395.45" y="294.30" width="14.35" height="6.58" fill="#e04838"/>
<rect x="409.20" y="294.30" width="14.35" height="6.58" fill="#90c0e2"/>
<rect x="422.95" y="294.30" width="14.35" height="6.58" fill="#6aa4d4"/>
<rect x="436.70" y="294.30" width="14.35" height="6.58" fill="#6aa4d4"/>
<rect x="450.45" y="294.30" width="13.75" height="6.58" fill="#c8e0f2"/>
<rect x="354.20" y="300.28" width="14.35" height="6.58" fill="#f08068"/>
<rect x="367.95" y="300.28" width="14.35" height="6.58" fill="#f8c0a8"/>
<rect x="381.70" y="300.28" width="14.35" height="6.58" fill="#f6b090"/>
<rect x="395.45" y="300.28" width="14.35" height="6.58" fill="#e04838"/>
<rect x="409.20" y="300.28" width="14.35" height="6.58" fill="#78aed8"/>
<rect x="422.95" y="300.28" width="14.35" height="6.58" fill="#6aa4d4"/>
<rect x="436.70" y="300.28" width="14.35" height="6.58" fill="#78aed8"/>
<rect x="450.45" y="300.28" width="13.75" height="6.58" fill="#c8e0f2"/>
<rect x="354.20" y="306.26" width="14.35" height="6.58" fill="#ec6050"/>
<rect x="367.95" y="306.26" width="14.35" height="6.58" fill="#f8c0a8"/>
<rect x="381.70" y="306.26" width="14.35" height="6.58" fill="#f8c0a8"/>
<rect x="395.45" y="306.26" width="14.35" height="6.58" fill="#e04838"/>
<rect x="409.20" y="306.26" width="14.35" height="6.58" fill="#6aa4d4"/>
<rect x="422.95" y="306.26" width="14.35" height="6.58" fill="#78aed8"/>
<rect x="436.70" y="306.26" width="14.35" height="6.58" fill="#90c0e2"/>
<rect x="450.45" y="306.26" width="13.75" height="6.58" fill="#a8d0ec"/>
<rect x="354.20" y="312.24" width="14.35" height="6.58" fill="#f08068"/>
<rect x="367.95" y="312.24" width="14.35" height="6.58" fill="#f6b090"/>
<rect x="381.70" y="312.24" width="14.35" height="6.58" fill="#f8c0a8"/>
<rect x="395.45" y="312.24" width="14.35" height="6.58" fill="#e04838"/>
<rect x="409.20" y="312.24" width="14.35" height="6.58" fill="#6aa4d4"/>
<rect x="422.95" y="312.24" width="14.35" height="6.58" fill="#6aa4d4"/>
<rect x="436.70" y="312.24" width="14.35" height="6.58" fill="#7cb1da"/>
<rect x="450.45" y="312.24" width="13.75" height="6.58" fill="#90c0e2"/>
<rect x="354.20" y="318.22" width="14.35" height="6.58" fill="#f08068"/>
<rect x="367.95" y="318.22" width="14.35" height="6.58" fill="#fce4dc"/>
<rect x="381.70" y="318.22" width="14.35" height="6.58" fill="#f6b090"/>
<rect x="395.45" y="318.22" width="14.35" height="6.58" fill="#ec6050"/>
<rect x="409.20" y="318.22" width="14.35" height="6.58" fill="#7cb1da"/>
<rect x="422.95" y="318.22" width="14.35" height="6.58" fill="#7cb1da"/>
<rect x="436.70" y="318.22" width="14.35" height="6.58" fill="#7cb1da"/>
<rect x="450.45" y="318.22" width="13.75" height="6.58" fill="#7cb1da"/>
<rect x="354.20" y="324.20" width="14.35" height="6.58" fill="#f4a080"/>
<rect x="367.95" y="324.20" width="14.35" height="6.58" fill="#f6b090"/>
<rect x="381.70" y="324.20" width="14.35" height="6.58" fill="#fad0c0"/>
<rect x="395.45" y="324.20" width="14.35" height="6.58" fill="#d42828"/>
<rect x="409.20" y="324.20" width="14.35" height="6.58" fill="#90c0e2"/>
<rect x="422.95" y="324.20" width="14.35" height="6.58" fill="#78aed8"/>
<rect x="436.70" y="324.20" width="14.35" height="6.58" fill="#90c0e2"/>
<rect x="450.45" y="324.20" width="13.75" height="6.58" fill="#78aed8"/>
<rect x="354.20" y="330.18" width="14.35" height="6.58" fill="#f4a080"/>
<rect x="367.95" y="330.18" width="14.35" height="6.58" fill="#f8c0a8"/>
<rect x="381.70" y="330.18" width="14.35" height="6.58" fill="#f8c0a8"/>
<rect x="395.45" y="330.18" width="14.35" height="6.58" fill="#d42828"/>
<rect x="409.20" y="330.18" width="14.35" height="6.58" fill="#90c0e2"/>
<rect x="422.95" y="330.18" width="14.35" height="6.58" fill="#7cb1da"/>
<rect x="436.70" y="330.18" width="14.35" height="6.58" fill="#7cb1da"/>
<rect x="450.45" y="330.18" width="13.75" height="6.58" fill="#7cb1da"/>
<rect x="354.20" y="336.16" width="14.35" height="6.58" fill="#f4a080"/>
<rect x="367.95" y="336.16" width="14.35" height="6.58" fill="#f4a080"/>
<rect x="381.70" y="336.16" width="14.35" height="6.58" fill="#f8c0a8"/>
<rect x="395.45" y="336.16" width="14.35" height="6.58" fill="#d42828"/>
<rect x="409.20" y="336.16" width="14.35" height="6.58" fill="#7cb1da"/>
<rect x="422.95" y="336.16" width="14.35" height="6.58" fill="#7cb1da"/>
<rect x="436.70" y="336.16" width="14.35" height="6.58" fill="#90c0e2"/>
<rect x="450.45" y="336.16" width="13.75" height="6.58" fill="#a8d0ec"/>
<rect x="354.20" y="342.14" width="14.35" height="6.58" fill="#f6b090"/>
<rect x="367.95" y="342.14" width="14.35" height="6.58" fill="#f8c0a8"/>
<rect x="381.70" y="342.14" width="14.35" height="6.58" fill="#f8c0a8"/>
<rect x="395.45" y="342.14" width="14.35" height="6.58" fill="#d42828"/>
<rect x="409.20" y="342.14" width="14.35" height="6.58" fill="#7cb1da"/>
<rect x="422.95" y="342.14" width="14.35" height="6.58" fill="#7cb1da"/>
<rect x="436.70" y="342.14" width="14.35" height="6.58" fill="#90c0e2"/>
<rect x="450.45" y="342.14" width="13.75" height="6.58" fill="#a8d0ec"/>
<rect x="354.20" y="348.12" width="14.35" height="6.58" fill="#f6b090"/>
<rect x="367.95" y="348.12" width="14.35" height="6.58" fill="#ec6050"/>
<rect x="381.70" y="348.12" width="14.35" height="6.58" fill="#ec6050"/>
<rect x="395.45" y="348.12" width="14.35" height="6.58" fill="#f8c0a8"/>
<rect x="409.20" y="348.12" width="14.35" height="6.58" fill="#7cb1da"/>
<rect x="422.95" y="348.12" width="14.35" height="6.58" fill="#7cb1da"/>
<rect x="436.70" y="348.12" width="14.35" height="6.58" fill="#7cb1da"/>
<rect x="450.45" y="348.12" width="13.75" height="6.58" fill="#7cb1da"/>
<rect x="354.20" y="354.10" width="14.35" height="6.58" fill="#f4a080"/>
<rect x="367.95" y="354.10" width="14.35" height="6.58" fill="#ec6050"/>
<rect x="381.70" y="354.10" width="14.35" height="6.58" fill="#ec6050"/>
<rect x="395.45" y="354.10" width="14.35" height="6.58" fill="#fad0c0"/>
<rect x="409.20" y="354.10" width="14.35" height="6.58" fill="#7cb1da"/>
<rect x="422.95" y="354.10" width="14.35" height="6.58" fill="#7cb1da"/>
<rect x="436.70" y="354.10" width="14.35" height="6.58" fill="#7cb1da"/>
<rect x="450.45" y="354.10" width="13.75" height="6.58" fill="#7cb1da"/>
<rect x="354.20" y="360.08" width="14.35" height="6.58" fill="#ec6050"/>
<rect x="367.95" y="360.08" width="14.35" height="6.58" fill="#f08068"/>
<rect x="381.70" y="360.08" width="14.35" height="6.58" fill="#f6b090"/>
<rect x="395.45" y="360.08" width="14.35" height="6.58" fill="#fad0c0"/>
<rect x="409.20" y="360.08" width="14.35" height="6.58" fill="#7cb1da"/>
<rect x="422.95" y="360.08" width="14.35" height="6.58" fill="#6aa4d4"/>
<rect x="436.70" y="360.08" width="14.35" height="6.58" fill="#a8d0ec"/>
<rect x="450.45" y="360.08" width="13.75" height="6.58" fill="#7cb1da"/>
<rect x="354.20" y="366.06" width="14.35" height="6.58" fill="#ec6050"/>
<rect x="367.95" y="366.06" width="14.35" height="6.58" fill="#f8c0a8"/>
<rect x="381.70" y="366.06" width="14.35" height="6.58" fill="#e04838"/>
<rect x="395.45" y="366.06" width="14.35" height="6.58" fill="#fce4dc"/>
<rect x="409.20" y="366.06" width="14.35" height="6.58" fill="#7cb1da"/>
<rect x="422.95" y="366.06" width="14.35" height="6.58" fill="#7cb1da"/>
<rect x="436.70" y="366.06" width="14.35" height="6.58" fill="#7cb1da"/>
<rect x="450.45" y="366.06" width="13.75" height="6.58" fill="#7cb1da"/>
<rect x="354.20" y="372.04" width="14.35" height="6.58" fill="#ec6050"/>
<rect x="367.95" y="372.04" width="14.35" height="6.58" fill="#f8c0a8"/>
<rect x="381.70" y="372.04" width="14.35" height="6.58" fill="#e04838"/>
<rect x="395.45" y="372.04" width="14.35" height="6.58" fill="#fad0c0"/>
<rect x="409.20" y="372.04" width="14.35" height="6.58" fill="#7cb1da"/>
<rect x="422.95" y="372.04" width="14.35" height="6.58" fill="#7cb1da"/>
<rect x="436.70" y="372.04" width="14.35" height="6.58" fill="#a8d0ec"/>
<rect x="450.45" y="372.04" width="13.75" height="6.58" fill="#7cb1da"/>
<rect x="354.20" y="378.02" width="14.35" height="6.58" fill="#f8c0a8"/>
<rect x="367.95" y="378.02" width="14.35" height="6.58" fill="#f4a080"/>
<rect x="381.70" y="378.02" width="14.35" height="6.58" fill="#d42828"/>
<rect x="395.45" y="378.02" width="14.35" height="6.58" fill="#f8c0a8"/>
<rect x="409.20" y="378.02" width="14.35" height="6.58" fill="#7cb1da"/>
<rect x="422.95" y="378.02" width="14.35" height="6.58" fill="#7cb1da"/>
<rect x="436.70" y="378.02" width="14.35" height="6.58" fill="#7cb1da"/>
<rect x="450.45" y="378.02" width="13.75" height="6.58" fill="#7cb1da"/>
<rect x="354.20" y="384.00" width="14.35" height="6.58" fill="#f8c0a8"/>
<rect x="367.95" y="384.00" width="14.35" height="6.58" fill="#f08068"/>
<rect x="381.70" y="384.00" width="14.35" height="6.58" fill="#ec6050"/>
<rect x="395.45" y="384.00" width="14.35" height="6.58" fill="#f4a080"/>
<rect x="409.20" y="384.00" width="14.35" height="6.58" fill="#7cb1da"/>
<rect x="422.95" y="384.00" width="14.35" height="6.58" fill="#7cb1da"/>
<rect x="436.70" y="384.00" width="14.35" height="6.58" fill="#7cb1da"/>
<rect x="450.45" y="384.00" width="13.75" height="6.58" fill="#7cb1da"/>
<rect x="354.20" y="389.98" width="14.35" height="6.58" fill="#f08068"/>
<rect x="367.95" y="389.98" width="14.35" height="6.58" fill="#f8c0a8"/>
<rect x="381.70" y="389.98" width="14.35" height="6.58" fill="#e04838"/>
<rect x="395.45" y="389.98" width="14.35" height="6.58" fill="#f8c0a8"/>
<rect x="409.20" y="389.98" width="14.35" height="6.58" fill="#7cb1da"/>
<rect x="422.95" y="389.98" width="14.35" height="6.58" fill="#7cb1da"/>
<rect x="436.70" y="389.98" width="14.35" height="6.58" fill="#7cb1da"/>
<rect x="450.45" y="389.98" width="13.75" height="6.58" fill="#7cb1da"/>
<rect x="354.20" y="395.96" width="14.35" height="6.58" fill="#f4a080"/>
<rect x="367.95" y="395.96" width="14.35" height="6.58" fill="#f8c0a8"/>
<rect x="381.70" y="395.96" width="14.35" height="6.58" fill="#ec6050"/>
<rect x="395.45" y="395.96" width="14.35" height="6.58" fill="#f6b090"/>
<rect x="409.20" y="395.96" width="14.35" height="6.58" fill="#7cb1da"/>
<rect x="422.95" y="395.96" width="14.35" height="6.58" fill="#7cb1da"/>
<rect x="436.70" y="395.96" width="14.35" height="6.58" fill="#7cb1da"/>
<rect x="450.45" y="395.96" width="13.75" height="6.58" fill="#7cb1da"/>
<rect x="354.20" y="401.94" width="14.35" height="6.58" fill="#f6b090"/>
<rect x="367.95" y="401.94" width="14.35" height="6.58" fill="#f8c0a8"/>
<rect x="381.70" y="401.94" width="14.35" height="6.58" fill="#ec6050"/>
<rect x="395.45" y="401.94" width="14.35" height="6.58" fill="#f6b090"/>
<rect x="409.20" y="401.94" width="14.35" height="6.58" fill="#7cb1da"/>
<rect x="422.95" y="401.94" width="14.35" height="6.58" fill="#7cb1da"/>
<rect x="436.70" y="401.94" width="14.35" height="6.58" fill="#eaf0f5"/>
<rect x="450.45" y="401.94" width="13.75" height="6.58" fill="#3a7fc0"/>
<rect x="354.20" y="407.92" width="14.35" height="5.98" fill="#78aed8"/>
<rect x="367.95" y="407.92" width="14.35" height="5.98" fill="#7cb1da"/>
<rect x="381.70" y="407.92" width="14.35" height="5.98" fill="#a8d0ec"/>
<rect x="395.45" y="407.92" width="14.35" height="5.98" fill="#3a7fc0"/>
<rect x="409.20" y="407.92" width="14.35" height="5.98" fill="#ec6050"/>
<rect x="422.95" y="407.92" width="14.35" height="5.98" fill="#f4a080"/>
<rect x="436.70" y="407.92" width="14.35" height="5.98" fill="#f4a080"/>
<rect x="450.45" y="407.92" width="13.75" height="5.98" fill="#f08068"/>
<text x="281.60" y="270.10" font-size="6.0" fill="#2e2e2e" stroke="#2e2e2e" stroke-width="0.05" textLength="69.10" lengthAdjust="spacingAndGlyphs">O-tetradecanoyl-L-carnitine</text>
<text x="316.10" y="276.04" font-size="6.0" fill="#2e2e2e" stroke="#2e2e2e" stroke-width="0.05" textLength="34.60" lengthAdjust="spacingAndGlyphs">Linolenic acid</text>
<text x="302.30" y="281.98" font-size="6.0" fill="#2e2e2e" stroke="#2e2e2e" stroke-width="0.05" textLength="48.40" lengthAdjust="spacingAndGlyphs">Tetradecanoic acid</text>
<text x="266.90" y="287.92" font-size="6.0" fill="#2e2e2e" stroke="#2e2e2e" stroke-width="0.05" textLength="83.80" lengthAdjust="spacingAndGlyphs">Glycero-3-Phosphoethanolamine</text>
<text x="329.40" y="293.86" font-size="6.0" fill="#2e2e2e" stroke="#2e2e2e" stroke-width="0.05" textLength="21.30" lengthAdjust="spacingAndGlyphs">Mannitol</text>
<text x="281.60" y="299.80" font-size="6.0" fill="#2e2e2e" stroke="#2e2e2e" stroke-width="0.05" textLength="69.10" lengthAdjust="spacingAndGlyphs">O-octadecenoyl-L-carnitine</text>
<text x="301.60" y="305.74" font-size="6.0" fill="#2e2e2e" stroke="#2e2e2e" stroke-width="0.05" textLength="49.10" lengthAdjust="spacingAndGlyphs">Hexadecenoic acid</text>
<text x="301.10" y="311.68" font-size="6.0" fill="#2e2e2e" stroke="#2e2e2e" stroke-width="0.05" textLength="49.60" lengthAdjust="spacingAndGlyphs">L-Palmitoylcarnitine</text>
<text x="327.60" y="317.62" font-size="6.0" fill="#2e2e2e" stroke="#2e2e2e" stroke-width="0.05" textLength="23.10" lengthAdjust="spacingAndGlyphs">Linoleate</text>
<text x="324.00" y="323.56" font-size="6.0" fill="#2e2e2e" stroke="#2e2e2e" stroke-width="0.05" textLength="26.70" lengthAdjust="spacingAndGlyphs">9-oxoODE</text>
<text x="304.10" y="329.50" font-size="6.0" fill="#2e2e2e" stroke="#2e2e2e" stroke-width="0.05" textLength="46.60" lengthAdjust="spacingAndGlyphs">Prostaglandin F2a</text>
<text x="337.00" y="335.44" font-size="6.0" fill="#2e2e2e" stroke="#2e2e2e" stroke-width="0.05" textLength="13.70" lengthAdjust="spacingAndGlyphs">GMP</text>
<text x="301.90" y="341.38" font-size="6.0" fill="#2e2e2e" stroke="#2e2e2e" stroke-width="0.05" textLength="48.80" lengthAdjust="spacingAndGlyphs">Octadecenoic acid</text>
<text x="287.80" y="347.32" font-size="6.0" fill="#2e2e2e" stroke="#2e2e2e" stroke-width="0.05" textLength="62.90" lengthAdjust="spacingAndGlyphs">Docosa-pentaenoic acid</text>
<text x="325.80" y="353.26" font-size="6.0" fill="#2e2e2e" stroke="#2e2e2e" stroke-width="0.05" textLength="24.90" lengthAdjust="spacingAndGlyphs">Serotonin</text>
<text x="294.00" y="359.20" font-size="6.0" fill="#2e2e2e" stroke="#2e2e2e" stroke-width="0.05" textLength="56.70" lengthAdjust="spacingAndGlyphs">Indole-3-acetaldehyde</text>
<text x="338.20" y="365.14" font-size="6.0" fill="#2e2e2e" stroke="#2e2e2e" stroke-width="0.05" textLength="12.50" lengthAdjust="spacingAndGlyphs">UDP</text>
<text x="337.30" y="371.08" font-size="6.0" fill="#2e2e2e" stroke="#2e2e2e" stroke-width="0.05" textLength="13.40" lengthAdjust="spacingAndGlyphs">GDP</text>
<text x="302.30" y="377.02" font-size="6.0" fill="#2e2e2e" stroke="#2e2e2e" stroke-width="0.05" textLength="48.40" lengthAdjust="spacingAndGlyphs">Hexose Phosphate</text>
<text x="296.60" y="382.96" font-size="6.0" fill="#2e2e2e" stroke="#2e2e2e" stroke-width="0.05" textLength="54.10" lengthAdjust="spacingAndGlyphs">PGD2/TXA2 isobars</text>
<text x="274.00" y="388.90" font-size="6.0" fill="#2e2e2e" stroke="#2e2e2e" stroke-width="0.05" textLength="76.70" lengthAdjust="spacingAndGlyphs">D-Fructose-1-6-Bisphosphate</text>
<text x="338.20" y="394.84" font-size="6.0" fill="#2e2e2e" stroke="#2e2e2e" stroke-width="0.05" textLength="12.50" lengthAdjust="spacingAndGlyphs">AMP</text>
<text x="298.40" y="400.78" font-size="6.0" fill="#2e2e2e" stroke="#2e2e2e" stroke-width="0.05" textLength="52.30" lengthAdjust="spacingAndGlyphs">11-(R) HPETE/LTB4</text>
<text x="332.00" y="406.72" font-size="6.0" fill="#2e2e2e" stroke="#2e2e2e" stroke-width="0.05" textLength="18.70" lengthAdjust="spacingAndGlyphs">Proline</text>
<text x="318.80" y="412.66" font-size="6.0" fill="#2e2e2e" stroke="#2e2e2e" stroke-width="0.05" textLength="31.90" lengthAdjust="spacingAndGlyphs">L-Adrenaline</text>
<path d="M464.2 411 H481.5 V342 H476.7 M476.7 303.6 V381 M470 303.6 H476.7 M470 281.4 V323.9 M467.4 381 H476.7 M467.4 360 V398" fill="none" stroke="#8a8a8a" stroke-width="0.7"/>
<path d="M467 268 V292 M467 281.4 H470 M466.5 310 V335 M466.5 323.9 H470 M466 388 V405 M466 398 H467.4" fill="none" stroke="#c4c4cc" stroke-width="0.6"/>
<defs><linearGradient id="cb354" x1="0" y1="0" x2="0" y2="1"><stop offset="0" stop-color="#a8101e"/><stop offset="0.063" stop-color="#d02c30"/><stop offset="0.14" stop-color="#d86050"/><stop offset="0.236" stop-color="#e88a70"/><stop offset="0.33" stop-color="#f0a890"/><stop offset="0.43" stop-color="#f4c8b8"/><stop offset="0.506" stop-color="#f0dcd4"/><stop offset="0.573" stop-color="#eeeae8"/><stop offset="0.62" stop-color="#dce8f0"/><stop offset="0.716" stop-color="#bcdcec"/><stop offset="0.784" stop-color="#98c8e2"/><stop offset="0.86" stop-color="#70acd2"/><stop offset="0.928" stop-color="#5090c0"/><stop offset="1" stop-color="#3a78aa"/></linearGradient></defs>
<rect x="490.8" y="275.4" width="3.7" height="104.1" fill="url(#cb354)"/>
<text x="498.10" y="280.80" font-size="7.0" fill="#2a2a2a" stroke="#2a2a2a" stroke-width="0.35">1.5</text>
<text x="498.10" y="336.80" font-size="7.0" fill="#2a2a2a" stroke="#2a2a2a" stroke-width="0.3">0</text>
<text x="498.10" y="380.60" font-size="7.0" fill="#2a2a2a" stroke="#2a2a2a" stroke-width="0.3">−1.4</text>
<rect x="0.5" y="0.5" width="519" height="421" fill="none" stroke="#555" stroke-width="1"/>
</svg></body></html>
